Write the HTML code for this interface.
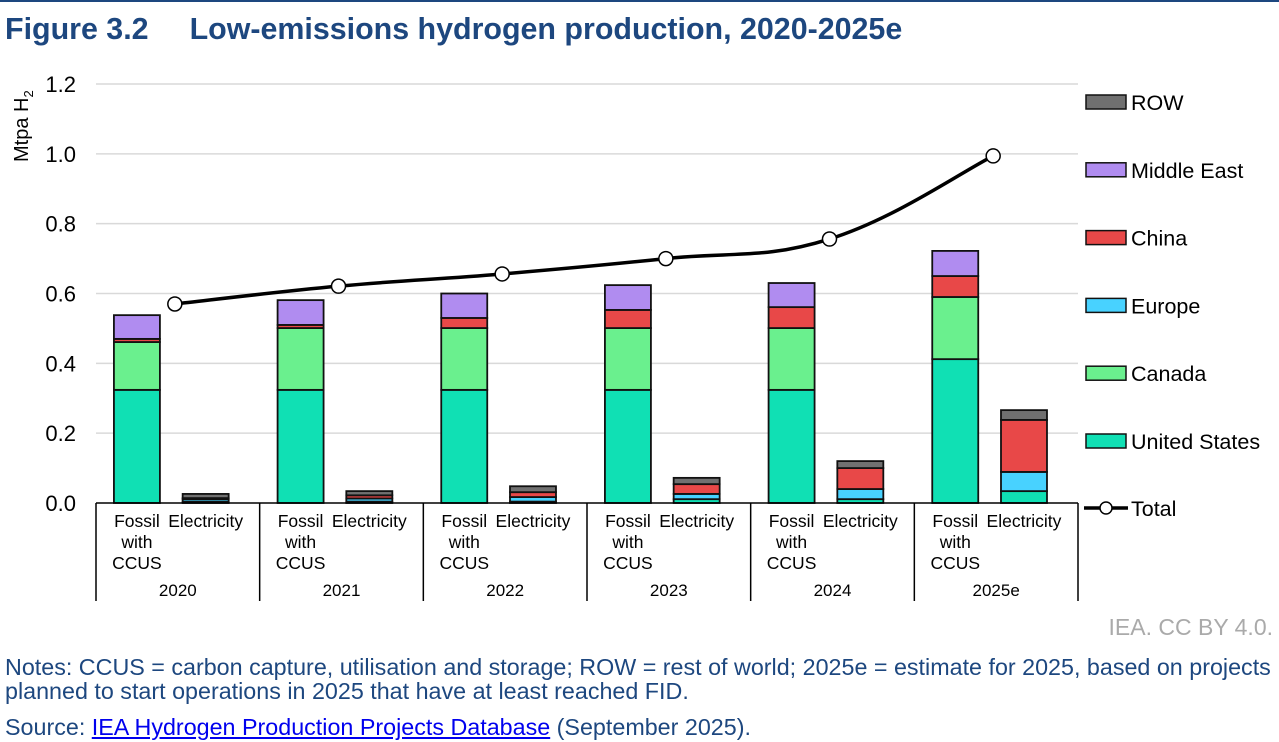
<!DOCTYPE html>
<html><head><meta charset="utf-8"><style>
body{margin:0;background:#fff;font-family:"Liberation Sans",Arial,sans-serif;}
#root{position:relative;width:1279px;height:742px;overflow:hidden;}
.t{position:absolute;white-space:nowrap;}
</style></head><body>
<div id="root">
<div style="position:absolute;left:0;top:0;width:1279px;height:2px;background:#1d477f"></div>
<div class="t" style="left:5px;top:12px;font-size:30.4px;font-weight:bold;color:#1d477f">Figure 3.2<span style="display:inline-block;width:41px"></span>Low-emissions hydrogen production, 2020-2025e</div>
<svg id="chart" width="1279" height="742" style="position:absolute;left:0;top:0;font-family:'Liberation Sans',Arial,sans-serif"></svg>
<div class="t" style="right:6px;top:614px;font-size:23px;color:#aaa">IEA. CC BY 4.0.</div>
<div class="t" style="left:5px;top:655px;font-size:23.3px;line-height:24px;color:#1d477f">Notes: CCUS = carbon capture, utilisation and storage; ROW = rest of world; 2025e = estimate for 2025, based on projects<br>planned to start operations in 2025 that have at least reached FID.</div>
<div class="t" style="left:5px;top:714px;font-size:23.3px;color:#1d477f">Source: <span style="color:#0000ee;text-decoration:underline">IEA Hydrogen Production Projects Database</span> (September 2025).</div>
</div>
<script>
const years=["2020","2021","2022","2023","2024","2025e"];
const seriesNames=["United States","Canada","Europe","China","Middle East","ROW"];
const colors=["#10e0b4","#6af08e","#48d2ff","#e84848","#b08cf0","#707070"];
const fossilUS=[0.324,0.324,0.324,0.324,0.324,0.412];
const fossilCanada=[0.137,0.177,0.177,0.177,0.177,0.178];
const fossilEurope=[0,0,0,0,0,0];
const fossilChina=[0.009,0.009,0.029,0.052,0.060,0.060];
const fossilME=[0.068,0.071,0.070,0.071,0.069,0.072];
const fossilROW=[0,0,0,0,0,0];
const elecUS=[0.004,0.004,0.004,0.011,0.011,0.034];
const elecCanada=[0,0,0,0,0,0];
const elecEurope=[0.007,0.009,0.013,0.015,0.029,0.055];
const elecChina=[0.003,0.009,0.014,0.028,0.060,0.149];
const elecME=[0,0,0,0,0,0];
const elecROW=[0.012,0.012,0.017,0.018,0.020,0.028];
const totals=[0.57,0.621,0.656,0.70,0.756,0.994];
const yTicks=[0,0.2,0.4,0.6,0.8,1.0,1.2];
const yTickLabels=["0.0","0.2","0.4","0.6","0.8","1.0","1.2"];

const svg=document.getElementById('chart');
const NS='http://www.w3.org/2000/svg';
const X0=96,X1=1078,Y0=503,YMAX=1.2,YTOP=84;
const gw=(X1-X0)/years.length;
const y=v=>Y0-(v/YMAX)*(Y0-YTOP);
function mk(tag,attrs,parent){const e=document.createElementNS(NS,tag);for(const k in attrs)e.setAttribute(k,attrs[k]);(parent||svg).appendChild(e);return e;}
function txt(x,yy,s,size,anchor,parent){const e=mk('text',{x:x,y:yy,'font-size':size,'text-anchor':anchor||'middle',fill:'#000'},parent);e.textContent=s;return e;}

yTicks.forEach((v,i)=>{
  if(v>0){const g=mk('line',{x1:X0,x2:X1,y1:y(v),y2:y(v),stroke:'#d9d9d9','stroke-width':1.5});
  
  }
  const t=txt(76,y(v)+8,yTickLabels[i],22,'end');
  
  
});
const yt=mk('text',{transform:'translate(28,162) rotate(-90)','font-size':20,'text-anchor':'start'});
yt.innerHTML='Mtpa H<tspan font-size="13" dy="5">2</tspan>';



const fossil=[fossilUS,fossilCanada,fossilEurope,fossilChina,fossilME,fossilROW];
const elec=[elecUS,elecCanada,elecEurope,elecChina,elecME,elecROW];
const bw=46;
years.forEach((yr,i)=>{
  const gx=X0+i*gw;
  [[fossil,gx+gw*0.25],[elec,gx+gw*0.67]].forEach(([set,cx],k)=>{
    let acc=0;
    set.forEach((s,si)=>{
      const v=s[i];if(v<=0)return;
      const r=mk('rect',{x:cx-bw/2,y:y(acc+v),width:bw,height:y(acc)-y(acc+v),fill:colors[si],stroke:'#111','stroke-width':1.8});
      
      
      acc+=v;
    });
    if(k===0){['Fossil','with','CCUS'].forEach((s,j)=>{const t=txt(cx,527+j*21,s,17.5);
      
      });}
    else{const t=txt(cx,527,'Electricity',17.5);
      
      }
  });
  const yl=txt(gx+gw/2,596,yr,17);
  
  
});
const ax=mk('line',{x1:X0,x2:X1,y1:Y0,y2:Y0,stroke:'#000','stroke-width':1.5});


for(let i=0;i<=years.length;i++){const l=mk('line',{x1:X0+i*gw,x2:X0+i*gw,y1:Y0,y2:601,stroke:'#000','stroke-width':1.5});
  
  }

const pts=totals.map((v,i)=>[X0+i*gw+gw/2-3,y(v)]);
let d='M'+pts[0][0]+','+pts[0][1];
for(let i=0;i<pts.length-1;i++){
  const p0=pts[Math.max(0,i-1)],p1=pts[i],p2=pts[i+1],p3=pts[Math.min(pts.length-1,i+2)];
  const t=0.2;
  d+=' C'+(p1[0]+(p2[0]-p0[0])*t)+','+(p1[1]+(p2[1]-p0[1])*t)+' '+(p2[0]-(p3[0]-p1[0])*t)+','+(p2[1]-(p3[1]-p1[1])*t)+' '+p2[0]+','+p2[1];
}
const ln=mk('path',{d:d,fill:'none',stroke:'#000','stroke-width':3.5});


pts.forEach(p=>{const c=mk('circle',{cx:p[0],cy:p[1],r:7,fill:'#fff',stroke:'#000','stroke-width':1.5});
  
  });

const legOrder=[5,4,3,2,1,0];
legOrder.forEach((si,j)=>{
  const ly=102+j*67.8;
  const r=mk('rect',{x:1086,y:ly-7,width:40,height:14,fill:colors[si],stroke:'#111','stroke-width':1.5});
  
  
  const t=txt(1131,ly+8,seriesNames[si],21.5,'start');
  
  
});
const lly=508;
const ll=mk('line',{x1:1084,x2:1128,y1:lly,y2:lly,stroke:'#000','stroke-width':3.5});


const lc=mk('circle',{cx:1106,cy:lly,r:6,fill:'#fff',stroke:'#000','stroke-width':1.5});


const lt=txt(1131,lly+8,'Total',21.5,'start');


</script>
</body></html>
